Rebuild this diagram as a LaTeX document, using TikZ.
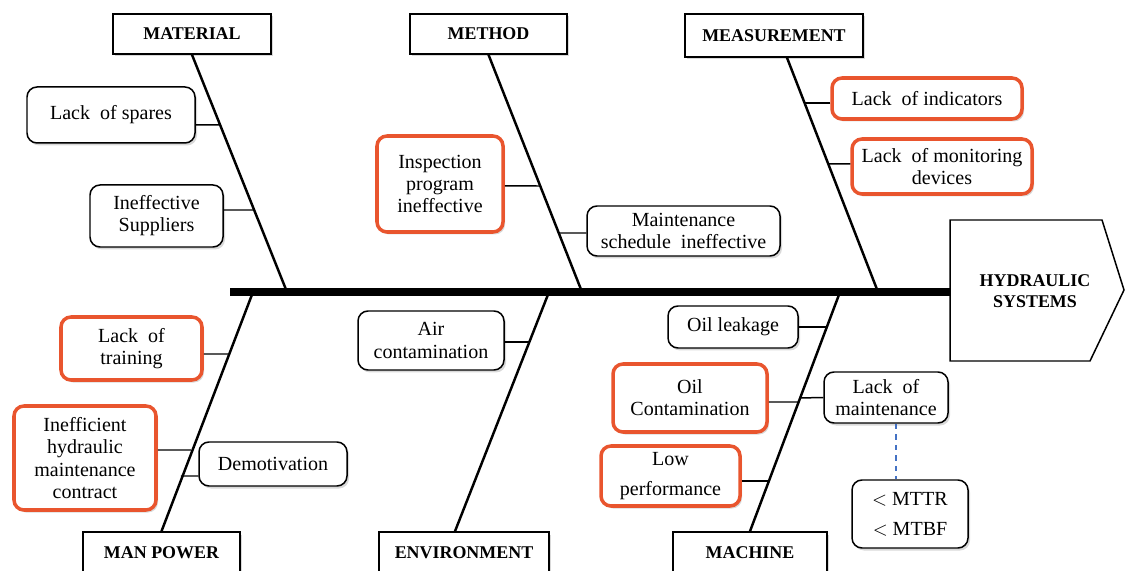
\documentclass[tikz,border=0pt]{standalone}
\usepackage{fontspec}
\setmainfont{Liberation Serif}
\usetikzlibrary{shadows}
\definecolor{hotred}{HTML}{E9552E}
\definecolor{linkblue}{HTML}{4472C4}

\begin{document}
\begin{tikzpicture}[line width=0.85pt,
    soft/.style={drop shadow={shadow xshift=0.04cm, shadow yshift=-0.05cm, opacity=0.3}},
    cat/.style={draw, fill=white, soft, inner sep=1pt, font=\fontsize{10.2}{12}\selectfont\bfseries},
    cause/.style={draw, fill=white, soft, rounded corners=0.2cm, align=center, inner sep=1pt, font=\fontsize{11.4}{12.6}\selectfont},
    hot/.style={cause, draw=hotred, line width=2pt},
    bone/.style={line width=1.4pt},
    twig/.style={line width=0.85pt}]
  \useasboundingbox (0,0) rectangle (22.520,11.400);
  \coordinate (spine) at (4.600,5.560);
  \coordinate (headw) at (19.000,5.560);
  \coordinate (c1) at (5.740,5.560);
  \coordinate (c2) at (11.640,5.560);
  \coordinate (c3) at (17.560,5.560);
  \coordinate (c4) at (5.060,5.560);
  \coordinate (c5) at (10.980,5.560);
  \coordinate (c6) at (16.800,5.560);
  \draw[line width=4pt] (spine) -- (headw);
  \draw[fill=white] (19.000,7.000) -- (22.040,7.000) -- (22.480,5.600) -- (21.800,4.180) -- (19.000,4.180) -- cycle;
  \node[align=center, font=\fontsize{10.2}{12}\selectfont\bfseries] (head) at (20.700,5.580) {HYDRAULIC\\SYSTEMS};
  \node[cat, minimum width=3.16cm, minimum height=0.80cm] (material) at (3.840,10.720) {MATERIAL};
  \node[cat, minimum width=3.14cm, minimum height=0.80cm] (method) at (9.770,10.720) {METHOD};
  \node[cat, minimum width=3.56cm, minimum height=0.86cm] (meas) at (15.480,10.690) {MEASUREMENT};
  \node[cat, minimum width=3.14cm, minimum height=0.84cm] (manpower) at (3.230,0.340) {MAN POWER};
  \node[cat, minimum width=3.40cm, minimum height=0.84cm] (env) at (9.280,0.340) {ENVIRONMENT};
  \node[cat, minimum width=3.08cm, minimum height=0.84cm] (machine) at (15.000,0.340) {MACHINE};
  \draw[bone] (material.south) -- (c1);
  \draw[bone] (method.south) -- (c2);
  \draw[bone] ([xshift=0.26cm]meas.south) -- (c3);
  \draw[bone] (manpower.north) -- (c4);
  \draw[bone] ([xshift=-0.18cm]env.north) -- (c5);
  \draw[bone] (machine.north) -- (c6);
  \node[cause, minimum width=3.36cm, minimum height=1.12cm] (spares) at (2.220,9.100) {Lack\ \ of spares};
  \node[cause, minimum width=2.66cm, minimum height=1.24cm] (suppliers) at (3.130,7.080) {Ineffective\\Suppliers};
  \node[hot, minimum width=2.52cm, minimum height=1.92cm] (inspect) at (8.800,7.720) {Inspection\\program\\ineffective};
  \node[cause, minimum width=3.86cm, minimum height=1.00cm] (schedule) at (13.670,6.780) {Maintenance\\schedule\ \ ineffective};
  \node[hot, minimum width=3.80cm, minimum height=0.82cm] (indicators) at (18.540,9.430) {Lack\ \ of indicators};
  \node[hot, minimum width=3.60cm, minimum height=1.10cm] (monitoring) at (18.840,8.070) {Lack\ \ of monitoring\\devices};
  \node[hot, minimum width=2.82cm, minimum height=1.26cm] (training) at (2.630,4.430) {Lack\ \ of\\training};
  \node[hot, minimum width=2.84cm, minimum height=2.08cm] (contract) at (1.700,2.240) {Inefficient\\hydraulic\\maintenance\\contract};
  \node[cause, minimum width=2.96cm, minimum height=0.88cm] (demotiv) at (5.460,2.120) {Demotivation};
  \node[cause, minimum width=2.92cm, minimum height=1.18cm] (air) at (8.620,4.590) {Air\\contamination};
  \node[cause, minimum width=2.60cm, minimum height=0.84cm] (leak) at (14.660,4.860) {Oil leakage};
  \node[hot, minimum width=3.08cm, minimum height=1.36cm] (oilcont) at (13.800,3.440) {Oil\\Contamination};
  \node[cause, minimum width=2.48cm, minimum height=1.02cm] (lackmaint) at (17.720,3.450) {Lack\ \ of\\maintenance};
  \node[hot, minimum width=2.78cm, minimum height=1.20cm] (lowperf) at (13.410,1.880) {Low\\[0.16cm]performance};
  \node[cause, minimum width=2.32cm, minimum height=1.36cm] (mttr) at (18.200,1.120) {$<$ MTTR\\[0.16cm]$<$ MTBF};
  \coordinate (k1) at (4.406,8.900);
  \coordinate (k2) at (5.086,7.200);
  \coordinate (k3) at (10.802,7.680);
  \coordinate (k4) at (11.174,6.740);
  \coordinate (k5) at (16.096,9.340);
  \coordinate (k6) at (16.568,8.120);
  \coordinate (k7) at (4.574,4.320);
  \coordinate (k8) at (3.822,2.400);
  \coordinate (k9) at (3.618,1.880);
  \coordinate (k10) at (10.588,4.560);
  \coordinate (k11) at (16.532,4.860);
  \coordinate (k12) at (15.956,3.360);
  \coordinate (k13) at (15.988,3.440);
  \coordinate (k14) at (15.352,1.780);
  \draw[twig] ([yshift=-0.2cm]spares.east) -- (k1);
  \draw[twig] ([yshift=0.12cm]suppliers.east) -- (k2);
  \draw[twig] ([yshift=-0.04cm]inspect.east) -- (k3);
  \draw[twig] ([yshift=-0.04cm]schedule.west) -- (k4);
  \draw[twig] ([yshift=-0.09cm]indicators.west) -- (k5);
  \draw[twig] ([yshift=0.05cm]monitoring.west) -- (k6);
  \draw[twig] ([yshift=-0.11cm]training.east) -- (k7);
  \draw[twig] ([yshift=0.16cm]contract.east) -- (k8);
  \draw[twig] ([yshift=-0.24cm]demotiv.west) -- (k9);
  \draw[twig] ([yshift=-0.03cm]air.east) -- (k10);
  \draw[twig] (leak.east) -- (k11);
  \draw[twig] ([yshift=-0.08cm]oilcont.east) -- (k12);
  \draw[twig] (lackmaint.west) -- (k13);
  \draw[twig] ([yshift=-0.1cm]lowperf.east) -- (k14);
  \draw[linkblue, dashed, line width=0.7pt] ([xshift=0.2cm]lackmaint.south) -- ([xshift=-0.28cm]mttr.north);
\end{tikzpicture}
\end{document}
